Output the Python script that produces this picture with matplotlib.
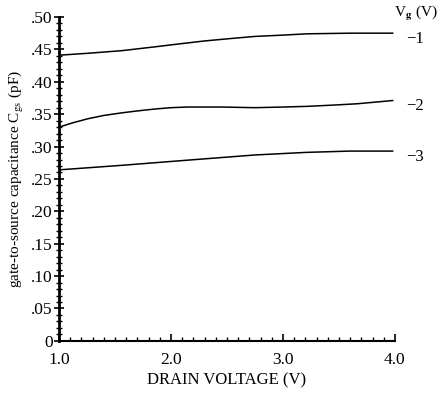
import matplotlib
matplotlib.use("Agg")
import matplotlib.pyplot as plt
from matplotlib.ticker import MultipleLocator

# Data
vd_1 = [1.0, 1.26, 1.56, 1.86, 2.1, 2.3, 2.55, 2.75, 3.0, 3.21, 3.6, 3.98]
cgs_1 = [0.441, 0.444, 0.448, 0.454, 0.459, 0.463, 0.467, 0.470, 0.472, 0.474, 0.475, 0.475]
vd_2 = [1.0, 1.13, 1.26, 1.4, 1.56, 1.7, 1.86, 2.0, 2.15, 2.45, 2.75, 3.0, 3.21, 3.45, 3.66, 3.98]
cgs_2 = [0.330, 0.337, 0.343, 0.348, 0.352, 0.355, 0.358, 0.360, 0.361, 0.361, 0.360, 0.361, 0.362, 0.364, 0.366, 0.371]
vd_3 = [1.0, 1.56, 2.15, 2.75, 3.21, 3.6, 3.98]
cgs_3 = [0.264, 0.271, 0.279, 0.287, 0.291, 0.293, 0.293]
vg_labels = ["\u22121", "\u22122", "\u22123"]
x_ticks = [1.0, 2.0, 3.0, 4.0]
x_ticklabels = ["1.0", "2.0", "3.0", "4.0"]
y_ticks = [0, 0.05, 0.10, 0.15, 0.20, 0.25, 0.30, 0.35, 0.40, 0.45, 0.50]
y_ticklabels = ["0", ".05", ".10", ".15", ".20", ".25", ".30", ".35", ".40", ".45", ".50"]

plt.rcParams['font.family'] = ['Liberation Serif', 'DejaVu Serif']
plt.rcParams['mathtext.fontset'] = 'stix'

fig = plt.figure(figsize=(4.42, 3.95), dpi=100)
ax = fig.add_axes([0.1335, 0.137, 0.760, 0.820])

for xs, ys, lab in zip([vd_1, vd_2, vd_3], [cgs_1, cgs_2, cgs_3], vg_labels):
    ax.plot(xs, ys, color='black', lw=1.1)
    ax.annotate(lab, xy=(xs[-1], ys[-1]), xytext=(10, -4), textcoords='offset points',
                fontsize=12, va='center', ha='left', annotation_clip=False)

fig.text(438 / 442, 1 - 14 / 395, "V$_\\mathbf{g}$ (V)", fontsize=11,
         ha='right', va='center')

ax.set_xlim(1.0, 4.0)
ax.set_ylim(0, 0.5)
ax.set_xticks(x_ticks)
ax.set_xticklabels(x_ticklabels)
ax.set_yticks(y_ticks)
ax.set_yticklabels(y_ticklabels)
ax.xaxis.set_minor_locator(MultipleLocator(0.1))
ax.yaxis.set_minor_locator(MultipleLocator(0.01))

for s in ['top', 'right']:
    ax.spines[s].set_visible(False)
ax.spines['left'].set_linewidth(2.0)
ax.spines['bottom'].set_linewidth(1.5)

ax.tick_params(axis='y', which='major', direction='inout', length=7, width=1.2, labelsize=12.5, pad=1)
ax.tick_params(axis='y', which='minor', direction='inout', length=5, width=1.0)
ax.tick_params(axis='x', which='major', direction='in', length=5, width=1.2, labelsize=12.5, pad=8)
ax.tick_params(axis='x', which='minor', direction='in', length=3, width=1.0)

ax.set_xlabel("DRAIN VOLTAGE (V)", fontsize=12, labelpad=3)
ax.set_ylabel("gate-to-source capacitance C$_\\mathrm{gs}$ (pF)", fontsize=11, labelpad=4)

fig.savefig("out.png", dpi=100)
